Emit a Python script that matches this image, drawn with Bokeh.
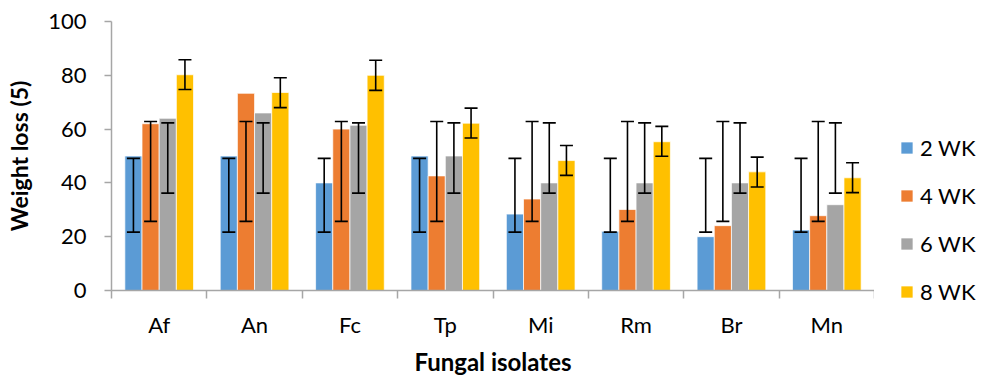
from bokeh.plotting import figure
from bokeh.layouts import row
from bokeh.models import (ColumnDataSource, Range1d, FixedTicker, Whisker, TeeHead,
                          Legend, LegendItem)
from bokeh.embed import file_html
from bokeh.resources import INLINE

categories = ["Af", "An", "Fc", "Tp", "Mi", "Rm", "Br", "Mn"]
series = ["2 WK", "4 WK", "6 WK", "8 WK"]
colors = ["#5B9BD5", "#ED7D31", "#A5A5A5", "#FFC000"]

wk2 = [50, 50, 40, 50, 28.4, 22, 20, 22.5]
wk4 = [62, 73.3, 60, 42.6, 34, 30.1, 24.1, 27.8]
wk6 = [64, 66, 61.4, 50, 40, 40, 40, 31.9]
wk8 = [80.2, 73.6, 80, 62.2, 48.3, 55.3, 44.1, 41.9]

wk2_low = [21.7] * 8
wk2_high = [49.1] * 8
wk4_low = [25.7] * 8
wk4_high = [62.8] * 8
wk6_low = [36.2] * 8
wk6_high = [62.3] * 8
wk8_low = [74.7, 68.0, 74.4, 56.7, 42.8, 49.9, 38.5, 36.4]
wk8_high = [85.8, 79.1, 85.6, 67.8, 53.9, 61.0, 49.6, 47.5]

values = [wk2, wk4, wk6, wk8]
lows = [wk2_low, wk4_low, wk6_low, wk8_low]
highs = [wk2_high, wk4_high, wk6_high, wk8_high]

FONT = "Lato"
bar_w = 0.18
offsets = [-1.5 * bar_w, -0.5 * bar_w, 0.5 * bar_w, 1.5 * bar_w]

H = 378
MAIN_W = 874
LEG_W = 981 - MAIN_W

p = figure(width=MAIN_W, height=H, output_backend="svg", toolbar_location=None,
           x_range=Range1d(0, len(categories)), y_range=Range1d(0, 100),
           min_border_left=111, min_border_right=0, min_border_top=21,
           min_border_bottom=87)
p.outline_line_color = None
p.xgrid.visible = False
p.ygrid.visible = False
p.background_fill_color = "white"

# legend panel (separate narrow figure, frame not aligned with main plot);
# its ranges keep the bars out of view so only the legend swatches show
lf = figure(width=LEG_W, height=H, output_backend="svg", toolbar_location=None,
            x_range=Range1d(1000, 1001), y_range=Range1d(1000, 1001),
            min_border_left=0, min_border_right=0, min_border_top=0, min_border_bottom=0)
lf.frame_align = False
lf.axis.visible = False
lf.grid.visible = False
lf.outline_line_color = None

items = []
for k in range(4):
    xs = [i + 0.5 + offsets[k] for i in range(len(categories))]
    src = ColumnDataSource(dict(x=xs, top=values[k], lower=lows[k], upper=highs[k]))
    p.vbar(x="x", top="top", width=bar_w, bottom=0, source=src,
           fill_color=colors[k], line_color="white", line_alpha=0.7, line_width=1)
    w = Whisker(base="x", lower="lower", upper="upper", source=src, level="overlay",
                line_color="black", line_width=1.6,
                upper_head=TeeHead(size=13, line_color="black", line_width=1.6),
                lower_head=TeeHead(size=13, line_color="black", line_width=1.6))
    p.add_layout(w)
    r = lf.vbar(x="x", top="top", width=bar_w, bottom=0, source=src,
                fill_color=colors[k], line_color="white", line_alpha=0.7, line_width=1)
    items.append(LegendItem(label=series[k], renderers=[r]))

# x axis
xa = p.xaxis[0]
xa.ticker = FixedTicker(ticks=[i + 0.5 for i in range(len(categories))],
                        minor_ticks=list(range(len(categories) + 1)))
xa.major_label_overrides = {i + 0.5: c for i, c in enumerate(categories)}
xa.major_tick_out = 0
xa.major_tick_in = 0
xa.minor_tick_out = 8
xa.minor_tick_in = 0
xa.minor_tick_line_color = "#A6A6A6"
xa.axis_line_color = "#A6A6A6"
xa.axis_line_width = 1.5
xa.minor_tick_line_width = 1.5
xa.major_label_text_font = FONT
xa.major_label_text_font_size = "22px"
xa.major_label_text_color = "black"
xa.major_label_standoff = 12
xa.axis_label = "Fungal isolates"
xa.axis_label_text_font = FONT
xa.axis_label_text_font_style = "bold"
xa.axis_label_text_font_size = "24px"
xa.axis_label_text_color = "black"
xa.axis_label_standoff = 6

# y axis
ya = p.yaxis[0]
ya.ticker = FixedTicker(ticks=[0, 20, 40, 60, 80, 100])
ya.minor_tick_line_color = None
ya.major_tick_out = 7
ya.major_tick_in = 0
ya.major_tick_line_color = "#A6A6A6"
ya.major_tick_line_width = 1.5
ya.axis_line_color = "#A6A6A6"
ya.axis_line_width = 1.5
ya.major_label_text_font = FONT
ya.major_label_text_font_size = "22px"
ya.major_label_text_color = "black"
ya.major_label_standoff = 18
ya.axis_label = "Weight loss (5)"
ya.axis_label_text_font = FONT
ya.axis_label_text_font_style = "bold"
ya.axis_label_text_font_size = "23px"
ya.axis_label_text_color = "black"
ya.axis_label_standoff = 12

legend = Legend(items=items, location=(25, 73), orientation="vertical",
                glyph_width=15, glyph_height=15, label_standoff=6,
                label_text_font=FONT, label_text_font_size="22px",
                label_text_color="black", label_height=28, spacing=20,
                padding=0, margin=0, border_line_color=None,
                background_fill_alpha=0)
lf.add_layout(legend, "center")

layout = row(p, lf)
open("out.html", "w").write(file_html(layout, INLINE))
